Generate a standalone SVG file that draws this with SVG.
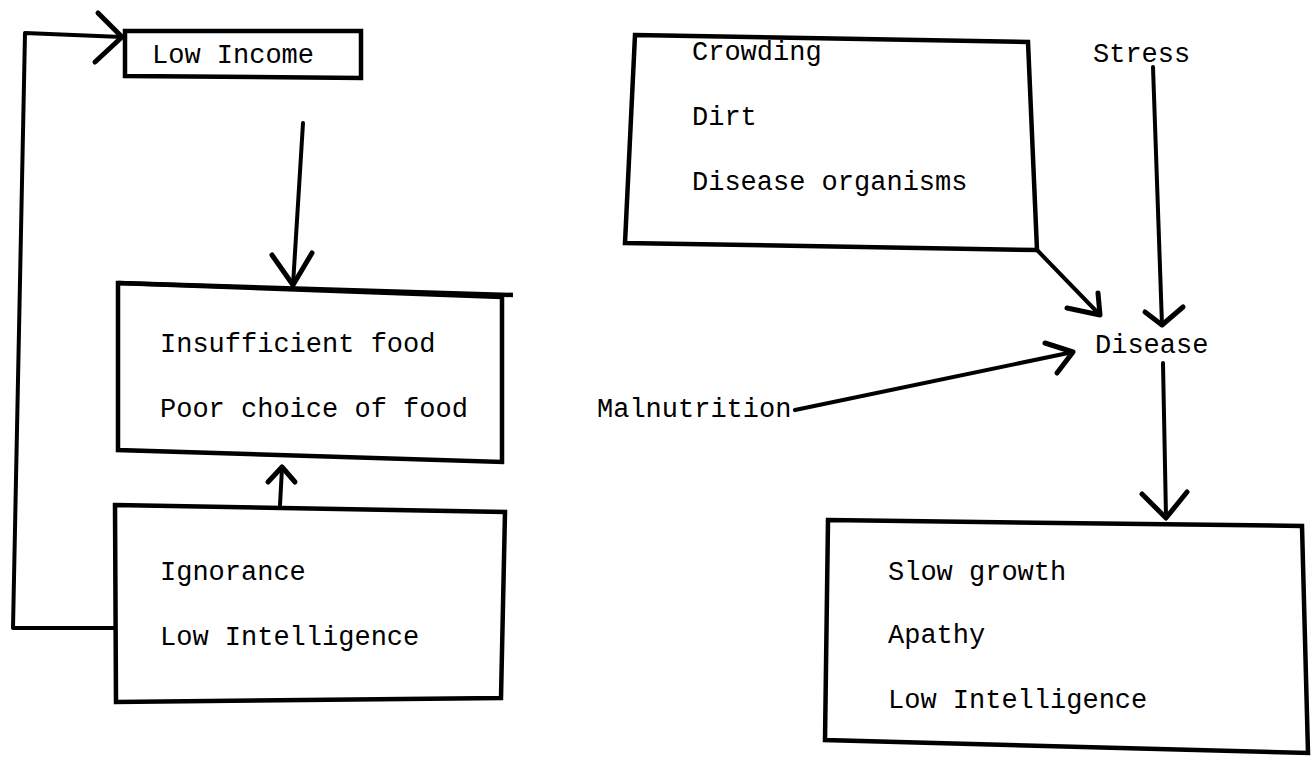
<svg xmlns="http://www.w3.org/2000/svg" width="1313" height="760" viewBox="0 0 1313 760">
<style>
.box{fill:none;stroke:#000;stroke-width:4.5;stroke-linejoin:miter}
.ln{fill:none;stroke:#000;stroke-width:4;stroke-linecap:round;stroke-linejoin:round}
.hd{fill:none;stroke:#000;stroke-width:5;stroke-linecap:round;stroke-linejoin:round}
text{font-family:"Liberation Mono","DejaVu Sans Mono",monospace;font-size:27px;fill:#000}
</style>
<rect width="1313" height="760" fill="#fff"/>
<g id="low-income">
<polygon class="box" points="125,31 361,31 361,78 125,76"/>
<text x="152" y="63">Low Income</text>
</g>
<g id="food">
<polyline class="box" points="118,283 513,295"/>
<polygon class="box" points="118,283 502,297 502,462 118,450"/>
<text x="160" y="352">Insufficient food</text>
<text x="160" y="417">Poor choice of food</text>
</g>
<g id="ignorance">
<polygon class="box" points="115,505 505,512 501,698 116,702"/>
<text x="160" y="580">Ignorance</text>
<text x="160" y="645">Low Intelligence</text>
</g>
<g id="environment">
<polygon class="box" points="635,35 1028,42 1037,250 625,243"/>
<text x="692" y="60">Crowding</text>
<text x="692" y="125">Dirt</text>
<text x="692" y="190">Disease organisms</text>
</g>
<g id="stress">
<text x="1093" y="62">Stress</text>
</g>
<g id="disease">
<text x="1095" y="353">Disease</text>
</g>
<g id="malnutrition">
<text x="597" y="417">Malnutrition</text>
</g>
<g id="outcomes">
<polygon class="box" points="828,520 1302,526 1308,753 825,740"/>
<text x="888" y="580">Slow growth</text>
<text x="888" y="643">Apathy</text>
<text x="888" y="708">Low Intelligence</text>
</g>
<g id="connectors">
<polyline class="ln" points="115,628 13,628 25,33 122,37"/>
<polyline class="hd" points="98,13 122,37 95,62"/>
<line class="ln" x1="303" y1="123" x2="293" y2="285"/>
<polyline class="hd" points="272,255 293,285 312,253"/>
<line class="ln" x1="280" y1="505" x2="282" y2="468"/>
<polyline class="hd" points="268,482 282,467 295,482"/>
<line class="ln" x1="1037" y1="250" x2="1100" y2="315"/>
<polyline class="hd" points="1067,308 1100,315 1098,293"/>
<line class="ln" x1="1153" y1="67" x2="1162" y2="325"/>
<polyline class="hd" points="1145,312 1162,325 1183,307"/>
<line class="ln" x1="795" y1="410" x2="1073" y2="352"/>
<polyline class="hd" points="1045,343 1073,352 1057,373"/>
<line class="ln" x1="1163" y1="363" x2="1166" y2="517"/>
<polyline class="hd" points="1142,494 1166,518 1187,492"/>
</g>
</svg>
